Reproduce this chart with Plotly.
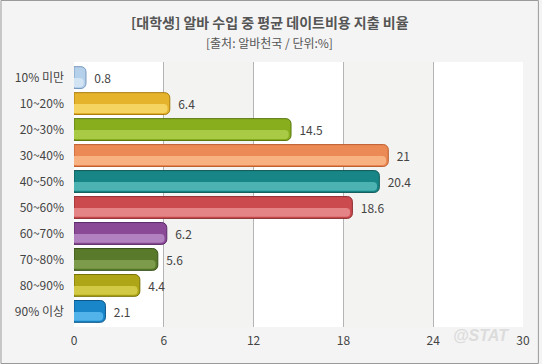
import plotly.graph_objects as go

categories = ["10% 미만", "10~20%", "20~30%", "30~40%", "40~50%",
              "50~60%", "60~70%", "70~80%", "80~90%", "90% 이상"]
values = [0.8, 6.4, 14.5, 21, 20.4, 18.6, 6.2, 5.6, 4.4, 2.1]
value_labels = ["0.8", "6.4", "14.5", "21", "20.4", "18.6", "6.2", "5.6", "4.4", "2.1"]
tick_values = [0, 6, 12, 18, 24, 30]

base_colors = ["#b4d0ea", "#e6b42c", "#88ae1e", "#ec8a56", "#188686",
               "#ca4a4e", "#8a4a96", "#587a2a", "#aea616", "#1a86ca"]
light_colors = ["#d2e4f4", "#f6d462", "#a8ca44", "#f8b282", "#4cb2b2",
                "#e48486", "#b282c0", "#7c9c4c", "#d2ca44", "#52b2ea"]
edge_colors = ["#7898bc", "#a87c0c", "#56760c", "#bc5c2c", "#0c5656",
               "#8c2c30", "#582866", "#38501a", "#767006", "#0a5688"]

W, H = 542, 364
ml, mr, mt, mb = 74, 16, 62, 37
pw, ph = W - ml - mr, H - mt - mb

fig = go.Figure()

fig.add_trace(go.Bar(
    y=categories, x=values, orientation="h",
    marker=dict(color=base_colors, line=dict(color=edge_colors, width=1), cornerradius=5),
    width=0.84,
    text=value_labels, texttemplate="  %{text}", textposition="outside", cliponaxis=False,
    textfont=dict(family="Noto Sans CJK KR, sans-serif", size=12, color="#444444"),
    hoverinfo="skip",
))
fig.add_trace(go.Bar(
    y=categories, x=[v - 0.15 for v in values], orientation="h",
    marker=dict(color=light_colors, line=dict(width=0), cornerradius=4),
    width=0.34, offset=0.02,
    hoverinfo="skip",
))

shapes = []
for i in range(len(tick_values) - 1):
    if i % 2 == 1:
        shapes.append(dict(type="rect", xref="x", yref="paper",
                           x0=tick_values[i], x1=tick_values[i + 1], y0=0, y1=1,
                           fillcolor="#f3f3f1", line=dict(width=0), layer="below"))
# outer border
shapes.append(dict(type="rect", xref="paper", yref="paper",
                   x0=-(ml - 0.5) / pw, x1=(W - 0.5 - ml) / pw,
                   y0=-(mb - 0.5) / ph, y1=1 + (mt - 0.5) / ph,
                   line=dict(color="#9a9a9a", width=1), fillcolor="rgba(0,0,0,0)"))

fig.update_layout(
    width=W, height=H,
    margin=dict(l=ml, r=mr, t=mt, b=mb),
    paper_bgcolor="#f4f4f4", plot_bgcolor="#ffffff",
    barmode="overlay", showlegend=False,
    font=dict(family="Noto Sans CJK KR, sans-serif", size=12, color="#444444"),
    shapes=shapes,
    xaxis=dict(range=[0, 30], tickvals=tick_values, showgrid=True,
               gridcolor="#b4b4b4", gridwidth=1, zeroline=False,
               showline=False, ticks="", ticklabelstandoff=5,
               tickfont=dict(size=12, color="#444444"), fixedrange=True),
    yaxis=dict(type="category", range=[9.6, -0.6], showgrid=False, zeroline=False,
               showline=False, ticks="", ticklabelstandoff=9,
               tickfont=dict(size=12, color="#444444"), fixedrange=True),
    annotations=[
        dict(text="<b>[대학생] 알바 수입 중 평균 데이트비용 지출 비율</b>",
             xref="paper", yref="paper", x=(W / 2 - ml) / pw, y=1 + (mt - 22) / ph,
             xanchor="center", yanchor="middle", showarrow=False,
             font=dict(size=14, color="#555555")),
        dict(text="[출처: 알바천국 / 단위:%]",
             xref="paper", yref="paper", x=(W / 2 - ml) / pw, y=1 + (mt - 42) / ph,
             xanchor="center", yanchor="middle", showarrow=False,
             font=dict(size=12, color="#555555")),
        dict(text="<b><i>@STAT</i></b>",
             xref="paper", yref="paper", x=(484 - ml) / pw, y=-(335 - mt - ph) / ph,
             xanchor="center", yanchor="middle", showarrow=False,
             font=dict(family="Arial, sans-serif", size=16, color="#dcdcdc")),
    ],
)

fig.write_html("out.html", config={"displayModeBar": False},
               post_script="document.body.style.margin='0';")
